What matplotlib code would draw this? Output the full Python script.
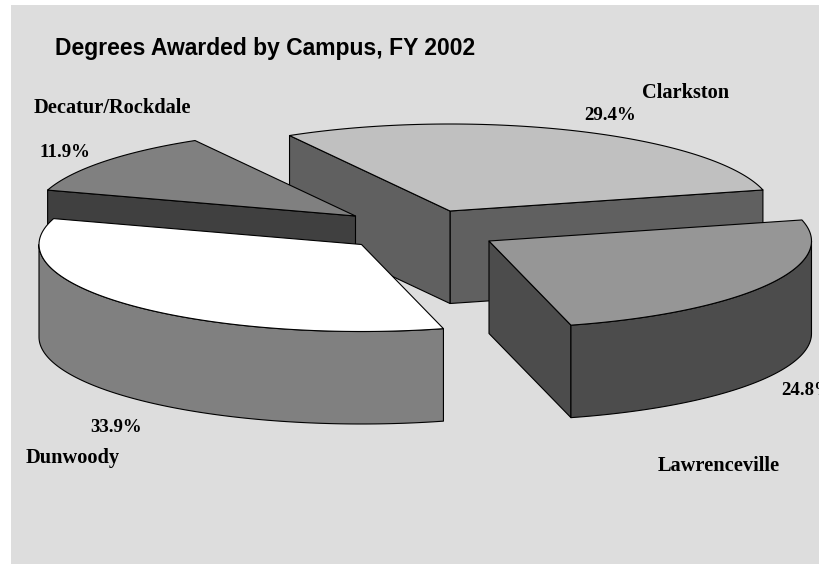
"""
plot.py
3d exploded pie of degrees awarded by campus, drawn on a pixel sized axes
"""

import numpy as np
import matplotlib
matplotlib.use('Agg')
import matplotlib.pyplot as plt
from matplotlib.patches import Polygon, Rectangle

## data
CAMPUS = ['Clarkston', 'Decatur/Rockdale', 'Dunwoody', 'Lawrenceville']
SHARE = [29.4, 11.9, 33.9, 24.8]
TITLE = 'Degrees Awarded by Campus, FY 2002'

## style
COL_TOP = ['#c0c0c0', '#808080', '#ffffff', '#969696']
COL_SIDE = ['#606060', '#404040', '#808080', '#4c4c4c']
COL_BG = '#dddddd'

## layout, pixels
START_ANGLE = 14.0
RX, RY = 322.5, 87.0
DEPTH = 92.5
APEX = [(450, 211), (355.5, 216), (361.5, 244.5), (489, 241)]
NAME_POS = [(642, 98), (33.5, 113), (26, 463), (657.7, 471)]
PCT_POS = [(584, 120), (40, 157), (90.7, 432), (781.7, 395)]


def rim(apex, a0, a1, num=120):
    '''points on the pie ellipse between two angles [deg]'''
    t = np.radians(np.linspace(a0, a1, num))
    return np.column_stack((apex[0] + RX*np.cos(t), apex[1] - RY*np.sin(t)))


def add_face(ax, pts, color):
    ax.add_patch(Polygon(pts, closed=True, facecolor=color, edgecolor='black',
                         linewidth=0.8, joinstyle='round'))


def draw_wedge(ax, apex, a0, a1, top, side):
    # cut faces that look towards the viewer
    for ang, normal in ((a0, a0 - 90), (a1, a1 + 90)):
        if np.sin(np.radians(normal)) < 0:
            end = rim(apex, ang, ang, 1)[0]
            add_face(ax, [apex, end, (end[0], end[1] + DEPTH),
                          (apex[0], apex[1] + DEPTH)], side)

    # outer wall, only the front half of the ellipse is seen
    lo, hi = max(a0, 180), min(a1, 360)
    if lo < hi:
        edge = rim(apex, lo, hi)
        add_face(ax, np.vstack((edge, edge[::-1] + (0, DEPTH))), side)

    # top
    add_face(ax, np.vstack(([apex], rim(apex, a0, a1))), top)


def plot_pie():
    fig = plt.figure(figsize=(8.2, 5.64), dpi=100, facecolor='white')
    ax = fig.add_axes([0, 0, 1, 1])
    ax.set_xlim(0, 820)
    ax.set_ylim(564, 0)
    ax.axis('off')

    ax.add_patch(Rectangle((11, 5), 809, 559, facecolor=COL_BG, edgecolor='none'))

    edges = START_ANGLE + np.cumsum([0] + SHARE) / sum(SHARE) * 360.0
    for i in range(len(SHARE)):
        draw_wedge(ax, APEX[i], edges[i], edges[i + 1], COL_TOP[i], COL_SIDE[i])

    ax.text(55, 55, TITLE, family='Liberation Sans', weight='bold', fontsize=16.5,
            ha='left', va='baseline', color='black')

    for i in range(len(SHARE)):
        ax.text(NAME_POS[i][0], NAME_POS[i][1], CAMPUS[i], family='Liberation Serif',
                weight='bold', fontsize=14.7, ha='left', va='baseline', color='black')
        ax.text(PCT_POS[i][0], PCT_POS[i][1], '{:.1f}%'.format(SHARE[i]),
                family='Liberation Serif', weight='bold', fontsize=13.6,
                ha='left', va='baseline', color='black')

    fig.savefig('out.png', dpi=100)


if __name__ == '__main__':
    plot_pie()
